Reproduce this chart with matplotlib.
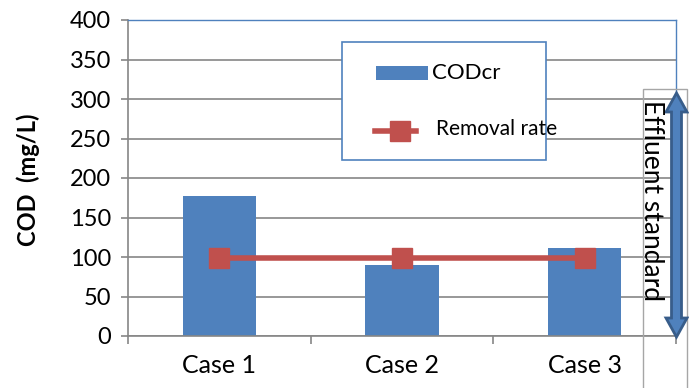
import matplotlib.pyplot as plt
from matplotlib.lines import Line2D
from matplotlib.patches import Polygon, Rectangle

W, H = 689, 388

COLOR_BAR = "#4F81BD"
COLOR_LINE = "#C0504D"
COLOR_GRID = "#868686"
COLOR_FRAME = "#4F81BD"

cases = ["Case 1", "Case 2", "Case 3"]
codcr = [177, 90, 111]
removal_rate = [99, 99, 99]
y_ticks = [0, 50, 100, 150, 200, 250, 300, 350, 400]

plt.rcParams["font.family"] = ["Lato", "DejaVu Sans"]


def px(x, y):
    # pixel coords (origin top-left) -> figure fraction
    return x / W, 1 - y / H


fig = plt.figure(figsize=(W / 100, H / 100), dpi=100)
left, top = px(128, 20)
right, bottom = px(676, 336)
ax = fig.add_axes([left, bottom, right - left, top - bottom])

x = list(range(len(cases)))
ax.bar(x, codcr, width=0.4, color=COLOR_BAR, zorder=2)
ax.plot(x, removal_rate, color=COLOR_LINE, lw=4, marker="s", markersize=14,
        zorder=3)

ax.set_xlim(-0.5, 2.5)
ax.set_ylim(0, 400)
ax.set_yticks(y_ticks)
ax.yaxis.grid(True, color=COLOR_GRID, lw=1.2, zorder=0)
ax.set_axisbelow(True)

ax.set_xticks(x)
ax.set_xticklabels(cases, fontsize=18)
ax.set_xticks([-0.5, 0.5, 1.5, 2.5], minor=True)
ax.tick_params(axis="x", which="major", length=0, pad=13)
ax.tick_params(axis="x", which="minor", length=6, width=1.2, color=COLOR_GRID,
               direction="out")
ax.tick_params(axis="y", length=5, width=1.2, color=COLOR_GRID, pad=7,
               labelsize=17)

for side in ("left", "bottom"):
    ax.spines[side].set_color(COLOR_GRID)
    ax.spines[side].set_linewidth(1.2)
for side in ("top", "right"):
    ax.spines[side].set_color(COLOR_FRAME)
    ax.spines[side].set_linewidth(1.0)

fig.text(*px(28, 180), "COD  (mg/L)", rotation=90, ha="center", va="center",
         fontsize=17, fontweight="bold")

# legend box
lx0, ly0 = px(342, 160)
lx1, ly1 = px(546, 42)
fig.patches.append(Rectangle((lx0, ly0), lx1 - lx0, ly1 - ly0,
                             transform=fig.transFigure, facecolor="white",
                             edgecolor=COLOR_FRAME, lw=1.2, zorder=5))
px0, py0 = px(376, 80)
px1, py1 = px(428, 66)
fig.patches.append(Rectangle((px0, py0), px1 - px0, py1 - py0,
                             transform=fig.transFigure, facecolor=COLOR_BAR,
                             edgecolor="none", zorder=6))
fig.text(*px(432, 73), "CODcr", fontsize=16, va="center", ha="left", zorder=6)
a, b = px(375, 131)
c, _ = px(416, 131)
fig.lines.append(Line2D([a, c], [b, b], transform=fig.transFigure,
                        color=COLOR_LINE, lw=4, zorder=6))
m, _ = px(400, 131)
fig.lines.append(Line2D([m], [b], transform=fig.transFigure, marker="s",
                        markersize=14, color=COLOR_LINE, lw=0, zorder=6))
fig.text(*px(436, 129), "Removal rate", fontsize=15, va="center", ha="left",
         zorder=6)

# effluent standard text box and double arrow
bx0, by0 = px(643, 395)
bx1, by1 = px(687, 89)
fig.patches.append(Rectangle((bx0, by0), bx1 - bx0, by1 - by0,
                             transform=fig.transFigure, facecolor="none",
                             edgecolor="#A6A6A6", lw=1.0, zorder=5))
arrow_px = [(676.5, 93), (687, 112), (681.5, 112), (681.5, 318), (687, 318),
            (676.5, 337), (666, 318), (671.5, 318), (671.5, 112), (666, 112)]
fig.patches.append(Polygon([px(u, v) for u, v in arrow_px], closed=True,
                           transform=fig.transFigure, facecolor=COLOR_BAR,
                           edgecolor="#385D8A", lw=2, zorder=6))
fig.text(*px(651, 200), "Effluent standard", rotation=-90, fontsize=19,
         ha="center", va="center", zorder=7)

fig.savefig("out.png", dpi=100, facecolor="white")
